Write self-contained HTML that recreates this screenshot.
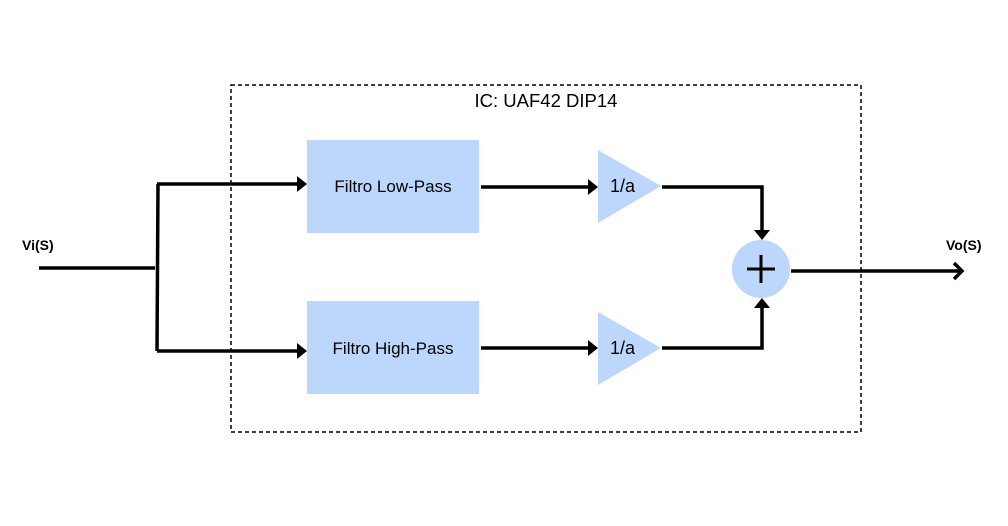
<!DOCTYPE html>
<html><head><style>body{margin:0;background:#fff}</style></head><body>
<svg width="1008" height="521" xmlns="http://www.w3.org/2000/svg" font-family="Liberation Sans, sans-serif">
<rect x="0" y="0" width="1008" height="521" fill="#fff"/>
<rect x="231" y="85" width="630" height="347" fill="none" stroke="#000" stroke-width="1.5" stroke-dasharray="4,3"/>
<text x="546" y="107" font-size="18.5" text-anchor="middle">IC: UAF42 DIP14</text>
<rect x="307" y="140" width="172" height="93" fill="#bcd6fc"/>
<rect x="307" y="301" width="172" height="93" fill="#bcd6fc"/>
<text x="393" y="192" font-size="17" text-anchor="middle">Filtro Low-Pass</text>
<text x="393" y="354" font-size="17" text-anchor="middle">Filtro High-Pass</text>
<polygon points="598,150 661,186 598,223" fill="#bcd6fc"/>
<polygon points="598,312 661,348 598,385" fill="#bcd6fc"/>
<text x="610" y="192" font-size="18">1/a</text>
<text x="610" y="354" font-size="18">1/a</text>
<circle cx="761" cy="269" r="29" fill="#bcd6fc"/>
<path d="M747 269H775M761 255V283" stroke="#000" stroke-width="3"/>
<g stroke="#000" stroke-width="3.5" fill="none">
<path d="M39 268H155"/>
<path d="M158 184L157 351"/>
<path d="M157 184H300"/>
<path d="M157 351H300"/>
<path d="M481 187H591"/>
<path d="M481 348H591"/>
<path d="M662 187H762V233"/>
<path d="M662 348H762V305"/>
<path d="M791 271H962"/>
<path d="M954 263L962 271L954 279"/>
</g>
<g fill="#000">
<polygon points="297,176 307,184 297,192"/>
<polygon points="297,343 307,351 297,359"/>
<polygon points="588,179 598,187 588,195"/>
<polygon points="588,340 598,348 588,356"/>
<polygon points="754,230 762,240 770,230"/>
<polygon points="754,308 762,298 770,308"/>
</g>
<text x="22" y="250" font-size="14" font-weight="bold">Vi(S)</text>
<text x="946" y="250" font-size="14" font-weight="bold">Vo(S)</text>
</svg>
</body></html>
